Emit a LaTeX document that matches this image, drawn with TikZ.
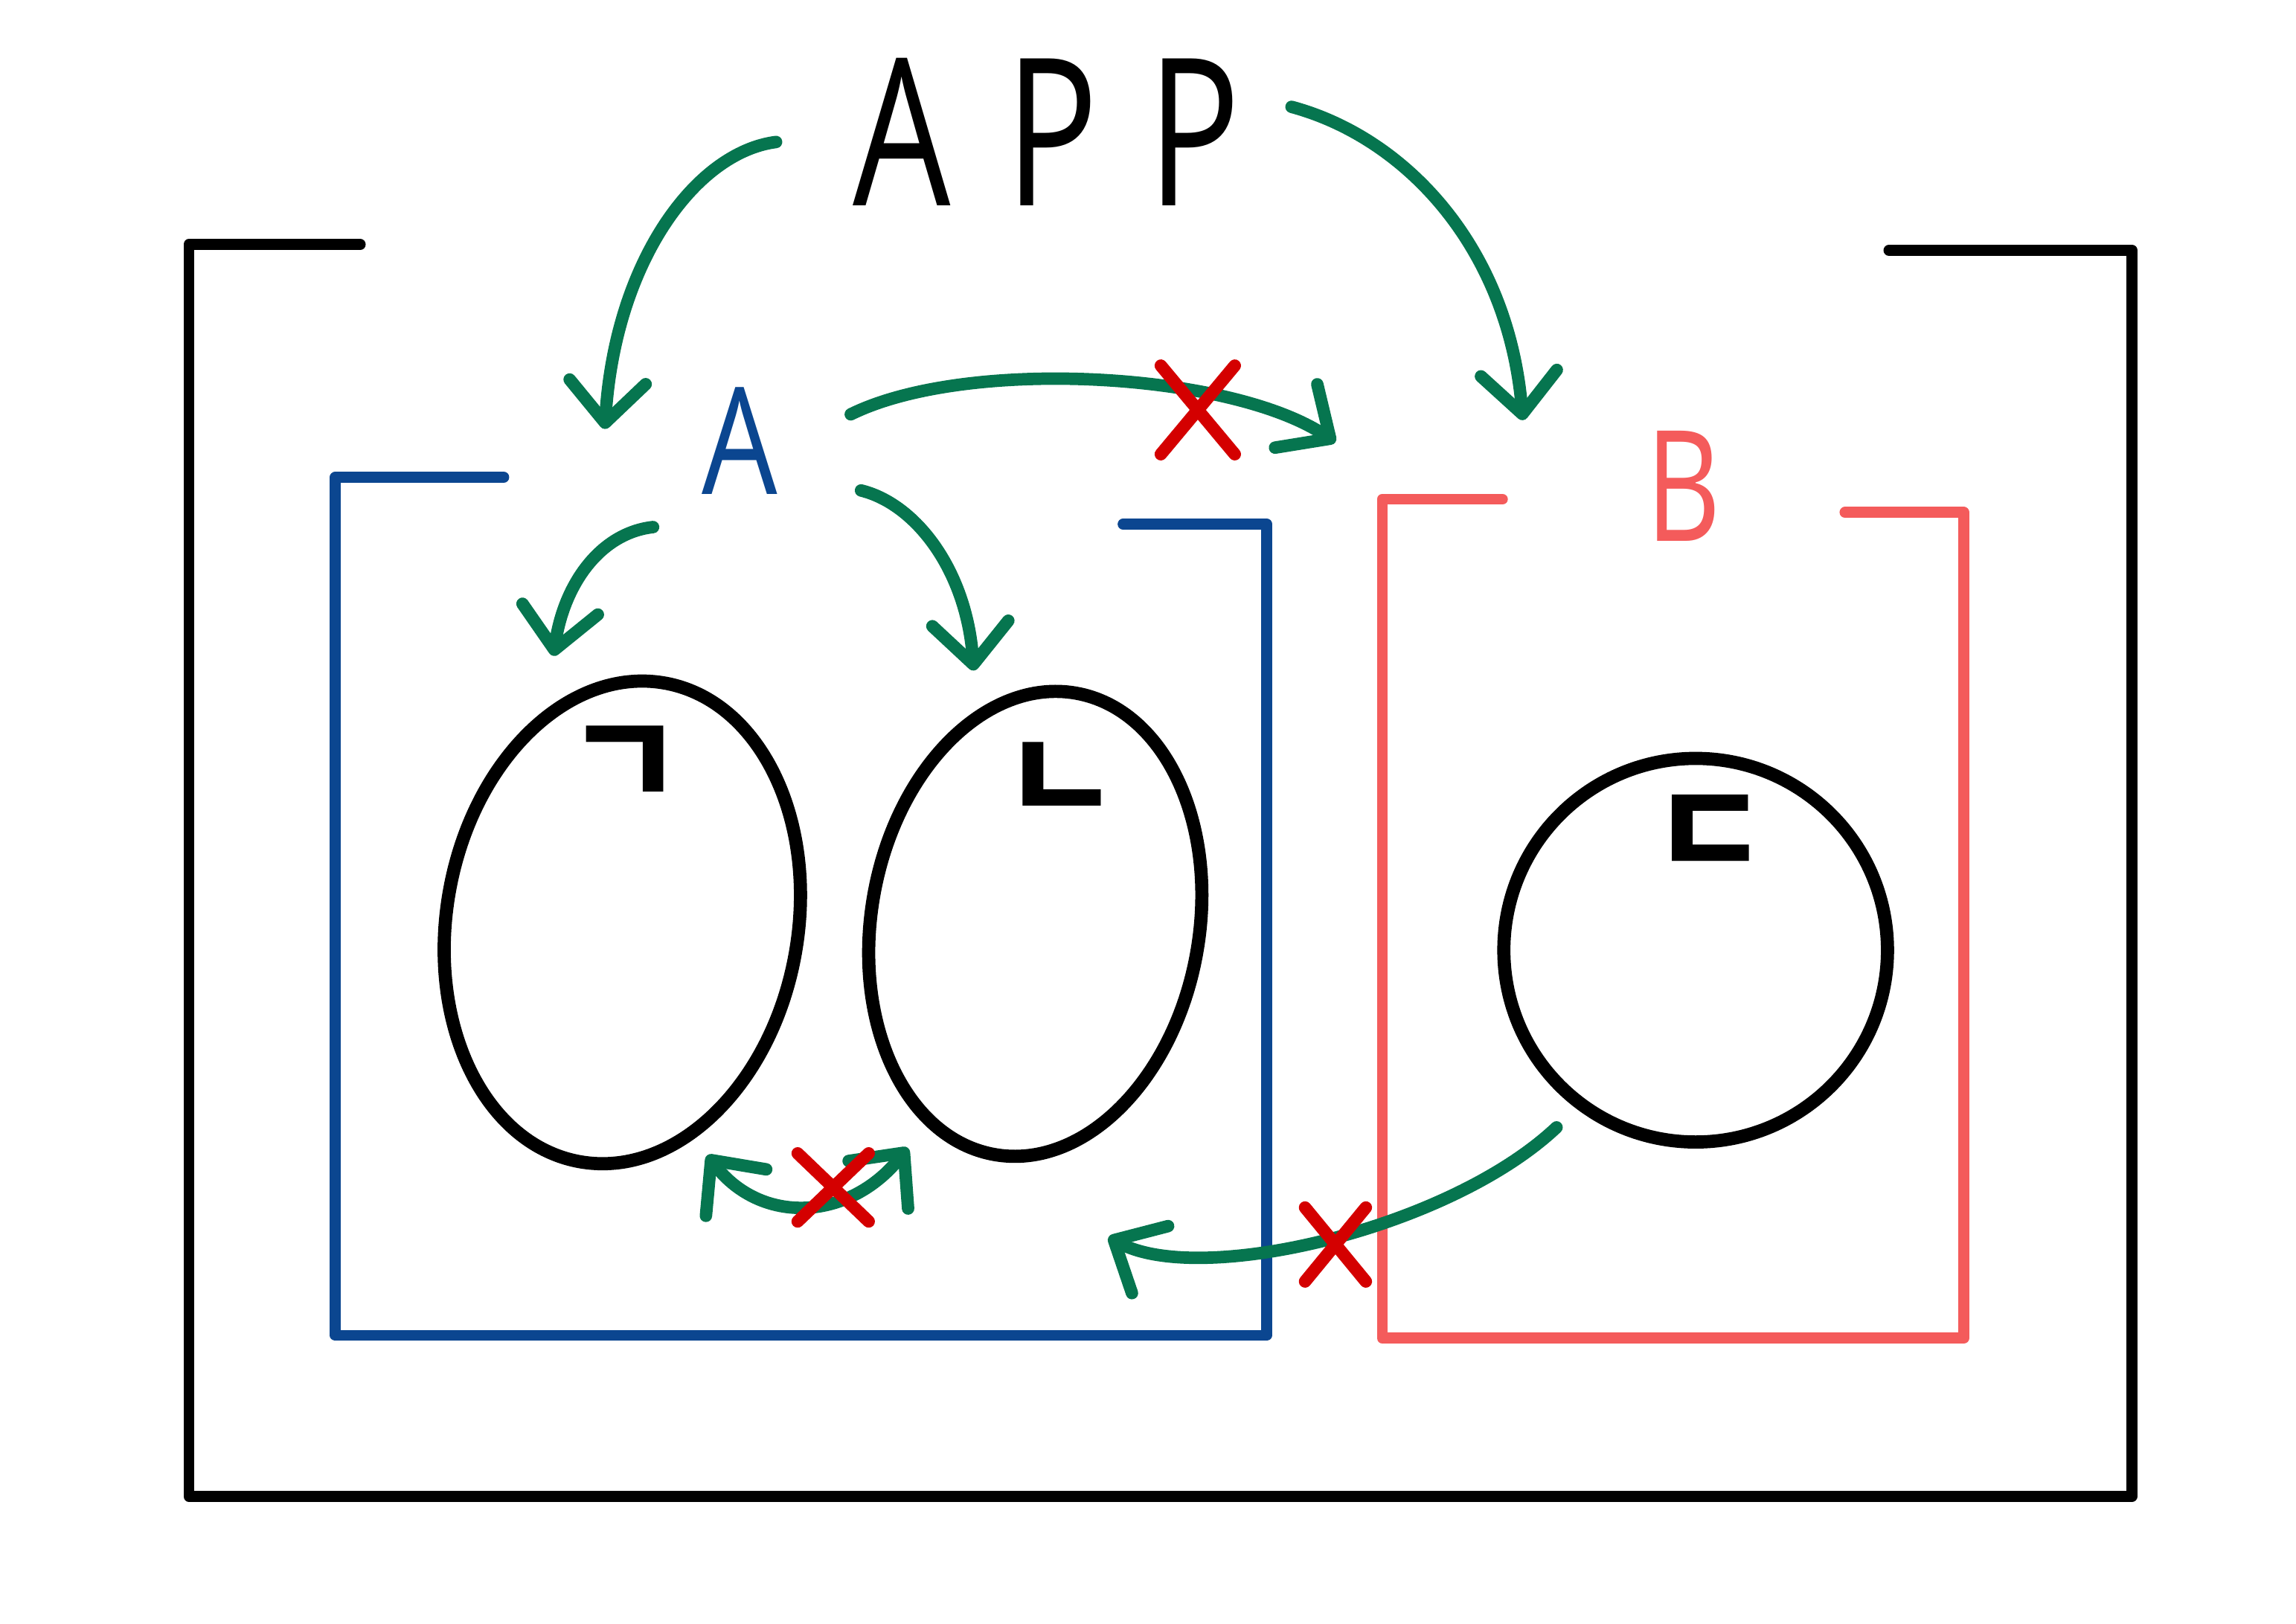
\documentclass[tikz,border=0pt]{standalone}
\usepackage{fontspec}
\setmainfont{Open Sans}
\newfontfamily\coreen{Noto Sans CJK KR}
\usepackage{tikz}
\usetikzlibrary{arrows.meta, shapes.geometric, shapes.misc}
\definecolor{bleu}{HTML}{0B4690}
\definecolor{corail}{HTML}{F45B5B}
\definecolor{vert}{HTML}{06754F}
\definecolor{rougex}{HTML}{D40000}

\begin{document}
\begin{tikzpicture}[
    trait/.style={line width=0.075cm, line cap=round, line join=round},
    pointe/.tip={Straight Barb[length=2.8mm, width=5.2mm, round]},
    fleche/.style={trait, vert, line width=0.085cm, -pointe},
    fleches/.style={trait, vert, line width=0.085cm, pointe-pointe},
    croix/.style={cross out, draw=rougex, line width=0.085cm, line cap=round, inner sep=0pt},
    bulle/.style={ellipse, draw, line width=0.09cm, inner sep=0pt},
    jamo/.style={font=\coreen\bfseries\fontsize{25}{25}\selectfont, inner sep=0pt}]
    \useasboundingbox (0,0) rectangle (15.68,11.09);
    % Cadre APP
    \draw[trait] (2.46,9.42) -- (1.29,9.42) -- (1.29,0.87) -- (14.56,0.87) -- (14.56,9.38) -- (12.90,9.38);
    \node[inner sep=0pt, font=\fontsize{40}{40}\selectfont] (app) at (7.15,10.19)
      {\scalebox{0.75}[1]{A\hspace{0.5cm}P\hspace{0.45cm}P}};
    % Cadre A
    \draw[trait, bleu] (3.44,7.83) -- (2.29,7.83) -- (2.29,1.97) -- (8.65,1.97) -- (8.65,7.51) -- (7.67,7.51);
    \node[inner sep=0pt, bleu, font=\fontsize{29}{29}\selectfont] (lblA) at (5.05,8.08) {\scalebox{0.8}[1]{A}};
    % Cadre B
    \draw[trait, corail] (10.26,7.68) -- (9.44,7.68) -- (9.44,1.95) -- (13.41,1.95) -- (13.41,7.59) -- (12.60,7.59);
    \node[inner sep=0pt, corail, font=\fontsize{30}{30}\selectfont] (lblB) at (11.50,7.77) {\scalebox{0.75}[1]{B}};
    % Bulles
    \node[bulle, minimum width=2.4cm, minimum height=3.32cm, rotate=-10] (ell1) at (4.25,4.79) {};
    \node[bulle, minimum width=2.24cm, minimum height=3.2cm, rotate=-10] (ell2) at (7.07,4.78) {};
    \node[bulle, circle, minimum size=2.62cm] (cer3) at (11.58,4.60) {};
    \node[jamo] (j1) at (4.27,5.85) {ㄱ};
    \node[jamo] (j2) at (7.25,5.74) {ㄴ};
    \node[jamo] (j3) at (11.68,5.38) {ㄷ};
    % Fleches APP
    \coordinate (appg) at (5.30,10.12);
    \coordinate (versA) at (4.13,8.16);
    \coordinate (appd) at (8.82,10.36);
    \coordinate (versB) at (10.40,8.22);
    \draw[fleche] (appg) .. controls (4.75,10.05) and (4.2,9.3) .. (versA);
    \draw[fleche] (appd) .. controls (9.6,10.15) and (10.3,9.4) .. (versB);
    % Fleches A
    \coordinate (Ad) at (5.81,8.26);
    \coordinate (Bg) at (9.12,8.07);
    \draw[fleche] (Ad) .. controls (6.6,8.65) and (8.4,8.55) .. (Bg);
    \node[croix, minimum width=0.42cm, minimum height=0.52cm] (x1) at (8.18,8.29) {};
    \coordinate (Ab) at (4.46,7.49);
    \coordinate (vers1) at (3.78,6.61);
    \draw[fleche] (Ab) .. controls (4.1,7.45) and (3.85,7.1) .. (vers1);
    \coordinate (Ac) at (5.88,7.74);
    \coordinate (vers2) at (6.65,6.51);
    \draw[fleche] (Ac) .. controls (6.25,7.65) and (6.6,7.2) .. (vers2);
    % Fleches entre bulles
    \coordinate (b1) at (4.83,3.20);
    \coordinate (b2) at (6.20,3.25);
    \draw[fleches] (b1) .. controls (5.2,2.72) and (5.8,2.75) .. (b2);
    \node[croix, minimum width=0.4cm, minimum height=0.38cm] (x2) at (5.69,2.98) {};
    \coordinate (b3) at (10.63,3.39);
    \coordinate (b2b) at (7.57,2.64);
    \draw[fleche] (b3) .. controls (9.9,2.7) and (8.2,2.3) .. (b2b);
    \node[croix, minimum width=0.33cm, minimum height=0.42cm] (x3) at (9.12,2.59) {};
\end{tikzpicture}
\end{document}
